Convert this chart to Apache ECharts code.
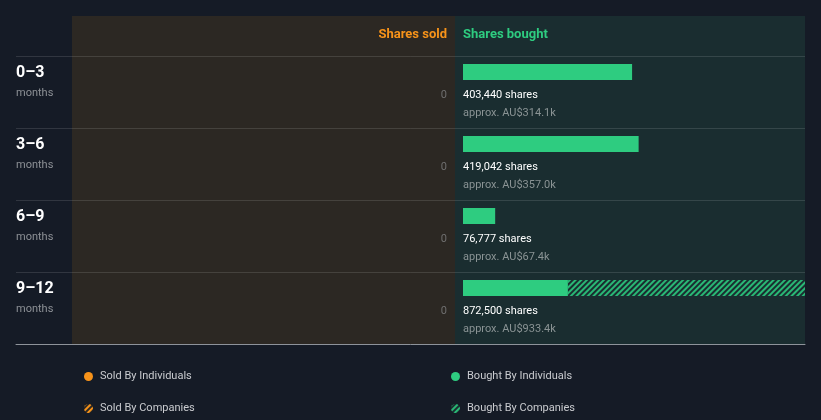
<!DOCTYPE html>
<html>
<head>
<meta charset="utf-8">
<script src="https://cdn.jsdelivr.net/npm/echarts@6/dist/echarts.min.js"></script>
<style>
html,body{margin:0;padding:0;background:#151b26;}
#c{width:821px;height:420px;}
</style>
</head>
<body>
<div id="c"></div>
<script>
// ---- data ----
var periods = ['0\u20133', '3\u20136', '6\u20139', '9\u201312'];
var periodUnit = 'months';
var soldByIndividuals = [0, 0, 0, 0];
var soldByCompanies = [0, 0, 0, 0];
var boughtByIndividuals = [403440, 419042, 76777, 250400];
var boughtByCompanies = [0, 0, 0, 622100];
var boughtTotalShares = [403440, 419042, 76777, 872500];
var boughtApproxValue = ['AU$314.1k', 'AU$357.0k', 'AU$67.4k', 'AU$933.4k'];
var boughtAxisMax = 816000;

var FONT = 'Roboto, "Noto Sans", sans-serif';
var ORANGE = '#f7931a';
var GREEN = '#2ecc80';
var SOLD_BG = '#2c2823';
var BOUGHT_BG = '#1a2d30';

function fmt(n){ return n.toString().replace(/\B(?=(\d{3})+(?!\d))/g, ','); }

var chart = echarts.init(document.getElementById('c'), null, {renderer: 'canvas'});
var option = {
  backgroundColor: '#151b26',
  animation: false,
  textStyle: {fontFamily: FONT},
  title: [
    {text: 'Shares sold', right: 374, top: 28, padding: 0,
     textStyle: {color: ORANGE, fontSize: 13, fontWeight: 'bold', fontFamily: FONT}},
    {text: 'Shares bought', left: 463, top: 28, padding: 0,
     textStyle: {color: GREEN, fontSize: 13, fontWeight: 'bold', fontFamily: FONT}}
  ],
  graphic: [
    {type: 'rect', z: -10, shape: {x: 72, y: 16, width: 383, height: 328}, style: {fill: SOLD_BG}},
    {type: 'rect', z: -10, shape: {x: 455, y: 16, width: 350, height: 328}, style: {fill: BOUGHT_BG}}
  ],
  legend: [
    {orient: 'vertical', left: 79, top: 366, itemWidth: 9, itemHeight: 9, itemGap: 21,
     icon: 'circle', data: ['Sold By Individuals', 'Sold By Companies'],
     textStyle: {color: '#c9cbcf', fontSize: 11, fontFamily: FONT, padding: [0, 0, 0, 2]}},
    {orient: 'vertical', left: 446, top: 366, itemWidth: 9, itemHeight: 9, itemGap: 21,
     icon: 'circle', data: ['Bought By Individuals', 'Bought By Companies'],
     textStyle: {color: '#c9cbcf', fontSize: 11, fontFamily: FONT, padding: [0, 0, 0, 2]}}
  ],
  grid: [
    {left: 16, right: 16, top: 56, height: 288, containLabel: false},
    {left: 72, right: 374, top: 36, height: 288, containLabel: false},
    {left: 463, right: 16, top: 36, height: 288, containLabel: false}
  ],
  xAxis: [
    {gridIndex: 0, type: 'value', min: 0, max: 1, show: true,
     axisLine: {show: true, lineStyle: {color: '#8e939a', width: 1}},
     axisTick: {show: false}, axisLabel: {show: false}, splitLine: {show: false}},
    {gridIndex: 1, type: 'value', min: 0, max: 1, inverse: true, show: false},
    {gridIndex: 2, type: 'value', min: 0, max: boughtAxisMax, show: false}
  ],
  yAxis: [
    {gridIndex: 0, type: 'category', data: periods, inverse: true,
     axisLine: {show: false}, axisTick: {show: false},
     splitLine: {show: true, lineStyle: {color: 'rgba(255,255,255,0.12)', width: 1}},
     axisLabel: {
       show: true, margin: 0, align: 'left', padding: [0, 0, 17, 0],
       formatter: function (v) { return '{a|' + v + '}\n{b|' + periodUnit + '}'; },
       rich: {
         a: {color: '#ffffff', fontSize: 16, fontWeight: 'bold', lineHeight: 20, fontFamily: FONT},
         b: {color: '#8d9196', fontSize: 11, lineHeight: 22, fontFamily: FONT}
       }
     }},
    {gridIndex: 1, type: 'category', data: periods, inverse: true, show: false},
    {gridIndex: 2, type: 'category', data: periods, inverse: true, show: false}
  ],
  series: [
    {name: 'Sold By Individuals', type: 'bar', xAxisIndex: 1, yAxisIndex: 1, stack: 'sold',
     barWidth: 16, data: soldByIndividuals, itemStyle: {color: ORANGE},
     label: {show: true, position: [0, 31], align: 'right', verticalAlign: 'middle',
             color: '#6f6f6f', fontSize: 11, fontFamily: FONT,
             formatter: function (p) { return fmt(p.value); }}},
    {name: 'Sold By Companies', type: 'bar', xAxisIndex: 1, yAxisIndex: 1, stack: 'sold',
     barWidth: 16, data: soldByCompanies,
     itemStyle: {color: SOLD_BG, decal: {symbol: 'rect', symbolSize: 1, color: ORANGE,
       dashArrayX: [1, 0], dashArrayY: [2, 2], rotation: -Math.PI / 4}}},
    {name: 'Bought By Individuals', type: 'bar', xAxisIndex: 2, yAxisIndex: 2, stack: 'bought',
     barWidth: 16, data: boughtByIndividuals, itemStyle: {color: GREEN},
     label: {show: true, position: [0, 22], align: 'left', verticalAlign: 'top',
             formatter: function (p) {
               return '{s|' + fmt(boughtTotalShares[p.dataIndex]) + ' shares}\n{v|approx. ' + boughtApproxValue[p.dataIndex] + '}';
             },
             rich: {
               s: {color: '#ffffff', fontSize: 11, lineHeight: 18, fontFamily: FONT},
               v: {color: '#8a9394', fontSize: 11, lineHeight: 18, fontFamily: FONT}
             }}},
    {name: 'Bought By Companies', type: 'bar', xAxisIndex: 2, yAxisIndex: 2, stack: 'bought',
     barWidth: 16, data: boughtByCompanies,
     itemStyle: {color: BOUGHT_BG, decal: {symbol: 'rect', symbolSize: 1, color: '#29b875',
       dashArrayX: [1, 0], dashArrayY: [2, 2], rotation: -Math.PI / 4}}}
  ]
};
chart.setOption(option);
</script>
</body>
</html>
